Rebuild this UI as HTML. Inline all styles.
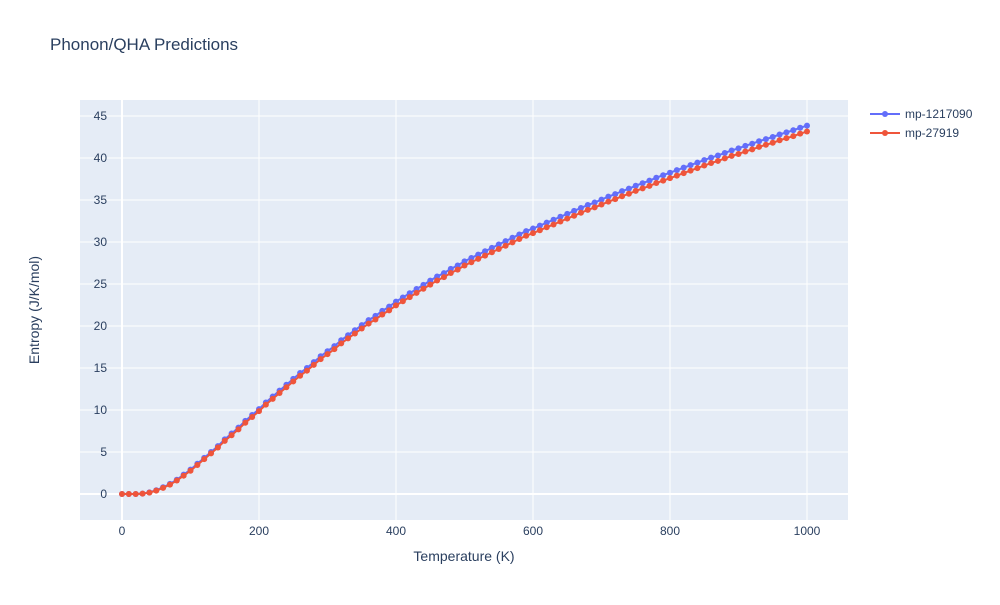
<!DOCTYPE html>
<html><head><meta charset="utf-8"><style>
body{margin:0;background:#fff;font-family:"Liberation Sans",Arial,sans-serif}
svg text{font-family:"Liberation Sans",Arial,sans-serif}
</style></head><body>
<svg id="chart" width="1000" height="600" xmlns="http://www.w3.org/2000/svg">
<rect width="1000" height="600" fill="#fff"/>
<text x="50" y="50" font-size="17" fill="#2a3f5f">Phonon/QHA Predictions</text>
<rect x="80" y="100" width="768" height="420" fill="#E5ECF6"/>
<g id="grid"></g><g id="series"></g><g id="ticks"></g>
<text x="464" y="561" font-size="14" fill="#2a3f5f" text-anchor="middle">Temperature (K)</text>
<text transform="translate(39,310) rotate(-90)" font-size="14" fill="#2a3f5f" text-anchor="middle">Entropy (J/K/mol)</text>
<g>
<g><line x1="870" y1="114" x2="900" y2="114" stroke="#636efa" stroke-width="2"/><circle cx="885" cy="114" r="3" fill="#636efa"/><text x="905" y="118" font-size="12" fill="#2a3f5f">mp-1217090</text></g>
<g><line x1="870" y1="133" x2="900" y2="133" stroke="#EF553B" stroke-width="2"/><circle cx="885" cy="133" r="3" fill="#EF553B"/><text x="905" y="137" font-size="12" fill="#2a3f5f">mp-27919</text></g>
</g>
</svg>
<script>
const temps=[];for(let t=0;t<=1000;t+=10)temps.push(t);
const seriesBlue=[0,0,0,0.05,0.2,0.45,0.8,1.2,1.7,2.3,2.9,3.6,4.3,5.0,5.7,6.5,7.2,7.9,8.7,9.4,10.1,10.9,11.6,12.3,13.0,13.7,14.4,15.0,15.7,16.4,17.0,17.6,18.3,18.9,19.5,20.1,20.7,21.2,21.8,22.3,22.9,23.4,23.9,24.4,24.9,25.4,25.9,26.3,26.8,27.2,27.7,28.1,28.5,28.9,29.3,29.7,30.1,30.5,30.9,31.3,31.6,31.95,32.3,32.65,33.0,33.35,33.7,34.05,34.4,34.7,35.05,35.4,35.7,36.05,36.35,36.7,37.0,37.3,37.65,37.95,38.25,38.55,38.85,39.15,39.45,39.75,40.05,40.3,40.6,40.9,41.15,41.45,41.7,42.0,42.25,42.5,42.8,43.05,43.3,43.6,43.85];
const seriesRed=[0,0,0,0.04,0.17,0.4,0.73,1.12,1.6,2.18,2.77,3.45,4.15,4.84,5.53,6.32,7.0,7.7,8.48,9.17,9.86,10.64,11.33,12.02,12.71,13.4,14.08,14.68,15.37,16.06,16.65,17.24,17.93,18.52,19.11,19.7,20.29,20.78,21.37,21.86,22.45,22.95,23.44,23.94,24.43,24.93,25.42,25.82,26.31,26.71,27.2,27.59,27.99,28.38,28.78,29.17,29.56,29.96,30.36,30.75,31.05,31.4,31.75,32.09,32.44,32.79,33.13,33.48,33.82,34.12,34.46,34.8,35.1,35.45,35.74,36.08,36.38,36.68,37.02,37.31,37.6,37.9,38.2,38.5,38.8,39.1,39.4,39.65,39.95,40.25,40.48,40.78,41.02,41.32,41.57,41.81,42.11,42.36,42.6,42.9,43.15];
const xTicks=[0,200,400,600,800,1000];
const yTicks=[0,5,10,15,20,25,30,35,40,45];
const NS="http://www.w3.org/2000/svg";
const xs=v=>122+v*0.685;
const ys=v=>494-v*8.4;
function mk(tag,attrs,parent){const e=document.createElementNS(NS,tag);for(const k in attrs)e.setAttribute(k,attrs[k]);parent.appendChild(e);return e;}
const grid=document.getElementById('grid'),ticks=document.getElementById('ticks'),ser=document.getElementById('series');
xTicks.forEach(v=>{
 const l=mk('line',{x1:xs(v),x2:xs(v),y1:100,y2:520,stroke:'#fff','stroke-width':v===0?2:1},grid);
 
 
 const t=mk('text',{x:xs(v),y:535,'font-size':12,fill:'#2a3f5f','text-anchor':'middle'},ticks);t.textContent=v;
 
 
});
yTicks.forEach(v=>{
 const l=mk('line',{x1:80,x2:848,y1:ys(v),y2:ys(v),stroke:'#fff','stroke-width':v===0?2:1},grid);
 
 
 const t=mk('text',{x:107,y:ys(v)+4,'font-size':12,fill:'#2a3f5f','text-anchor':'end'},ticks);t.textContent=v;
 
 
});
function draw(vals,color,name){
 const g=mk('g',{},ser);
 
 
 const p=mk('polyline',{points:vals.map((v,i)=>xs(temps[i])+','+ys(v)).join(' '),fill:'none',stroke:color,'stroke-width':2},g);
 
 
 vals.forEach((v,i)=>{const c=mk('circle',{cx:xs(temps[i]),cy:ys(v),r:3,fill:color},g);
  
  });
}
draw(seriesBlue,'#636efa','mp-1217090');
draw(seriesRed,'#EF553B','mp-27919');
</script>
</body></html>
